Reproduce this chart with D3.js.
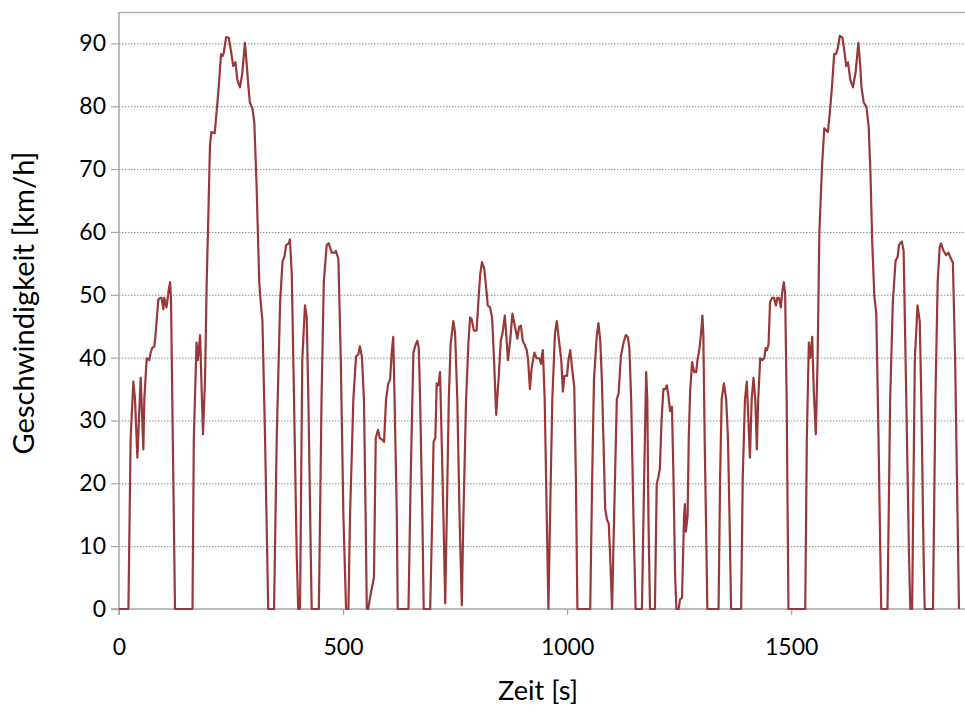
<!DOCTYPE html>
<html><head><meta charset="utf-8">
<script src="https://cdn.jsdelivr.net/npm/d3@7"></script>
<style>body{margin:0;background:#fff}svg{display:block}</style>
</head><body><svg id="c" width="965" height="711"></svg>
<script>
const time = [0,21,26,32,35.7,41,48.4,54.3,56.5,61.8,67.7,70.7,73.7,78.9,81.8,87.8,91.5,95,99,101,106,111,114,116,125,164,167,173,176,181,184,187.5,192,195.7,200,203,206,213.5,216.5,222.5,227.7,231.4,234,239,245,249,255,260,264,270,275,281,285,289,292,298,302,307,313,316,320,326,333,346,352,359.6,365,369,373,379,381.5,385.6,390.6,396.6,400,404,409,415,419,422.6,428,430,446,452,457,463.5,468,474.7,482,484,489.6,495,500.8,506.7,512,515.6,523,529,534,537.5,542,546.6,550.4,553,556,562,569,573,578,582,588,591.5,596,601,605,608.6,612,615,620,622,646,651,657,662,666,669,672,677,680,694.5,699,702,706,709,713,716.5,720,724,728,731.5,736,740,746,750,755,760,765,768.6,774.6,780,783.6,787,792,798,802,806,810,815,819,823,828,832.6,837,841.7,847,852,856,861,864,868,873,878,883,889,893,897,901,905,910,913,917,921,927,932,938,942,944,946,950,954.6,958.3,962,967,973,977,982,987,990.5,994,999.8,1003,1007,1011,1016,1019.6,1023,1051.6,1056,1060,1066,1070,1074,1077.6,1081,1085,1089,1093,1096,1100.4,1103,1107,1111,1115,1120,1126,1131,1135.5,1139,1143,1148,1153,1167,1172,1176.5,1179,1181.5,1185,1196,1200,1203.6,1207,1211,1215,1219,1222.6,1226,1230,1234,1237.4,1241,1244,1249,1252,1256.5,1261,1263,1265,1269,1271.5,1274.6,1279,1283.5,1288,1291,1295.5,1299,1302,1304,1307,1310.5,1313,1338,1341.5,1345,1350,1355,1359,1362.4,1366,1388.4,1392,1397,1401,1404.5,1408,1412,1416,1420,1423.5,1426.5,1431,1435.5,1440,1443,1446,1449.5,1453,1457.6,1462,1466,1469,1473,1477,1480.7,1483.7,1486.6,1490,1494,1531.5,1535,1539.5,1542.5,1547,1550.6,1555,1559,1563,1569,1574,1582,1586,1591,1596,1600,1604,1608.5,1614.5,1618,1623,1627,1632,1638,1644,1650,1654,1657,1662,1668,1673,1677,1681,1685.7,1690,1695,1701,1715,1721,1727,1733,1737.6,1740.6,1747,1751,1757,1763,1766,1770,1776,1782,1787,1790.5,1795.6,1798,1816.5,1822,1827,1831.5,1834.4,1840,1846,1851,1855,1861,1866,1870,1874.6];
const speed = [0,0,27.2,36.2,33.4,24.1,36.8,25.4,33.4,39.9,39.6,40.8,41.5,41.8,43.9,49.2,49.5,49.5,47.7,49.5,48,50.8,52,49.5,0,0,27.2,42.4,39.6,43.6,35.9,27.8,36.5,52,64.4,73.7,75.9,75.7,78,83,88.3,88,88.6,91,90.9,89.2,86.4,87,84.2,83,85.2,90.1,86.7,83,80.6,79.6,77.4,67.5,52,49,46,27,0,0,27.2,48.9,55.4,56,57.9,58.2,58.8,53.2,33.4,8.6,0,0,39.6,48.3,46.4,33.4,8.6,0,0,33.4,52,57.9,58.2,56.7,56.7,57,55.7,39.6,14.8,0,0,14.8,33.4,40.2,40.5,41.8,40.2,33.4,14.8,0,0,2.5,5,27.2,28.5,27.2,26.9,26.6,33.4,35.9,36.5,40.8,43.3,33.4,14.8,0,0,21,40.8,42.1,42.7,41.5,33.4,14.8,0,0,14.8,26.6,27.2,35.9,35.6,37.7,27.2,14.8,0.9,14.8,33.4,42.1,45.8,44,33.4,14.8,0.6,14.8,33.4,42.7,46.4,46.1,44.3,44.3,48.9,53.2,55.2,54.2,51.4,48.3,48,46.4,39.6,30.9,36.5,42.7,43.9,46.7,43.9,39.6,42.7,47,45.2,43,44.9,45.1,42.7,42.1,41.2,39.6,35,38.4,40.8,39.9,39.9,39,40.5,41.2,33.4,14.8,0,14.8,33.4,43.9,45.8,42.7,39.6,34.6,37.1,37.1,39.6,41.2,38.4,35.3,21,0,0,21,36.5,43.3,45.5,42.7,36.5,27.2,16,14.2,13.6,8.6,0,8.6,21,33.4,34.3,40.2,42.4,43.6,43.3,41.5,33.4,14.8,0,0,21,37.7,33.4,14.8,0,0,19.8,21,22.3,30.3,35,35,35.6,34,31.5,32.2,21,5.5,0,0,1.5,1.8,14.8,16.7,12.3,14.8,27.2,34.6,39.3,37.7,37.7,39.6,41.5,43.9,46.7,43.9,27.2,11.7,0,0,21,33.4,35.9,33.4,27.2,14.8,0,0,21,33.4,36.2,30.3,24.1,33.4,36.8,33.4,25.4,33.4,39.9,39.6,39.9,41.5,41.2,42.1,48.9,49.5,49.5,48.3,49.5,49.5,48,50.8,52,50.2,33.4,0,0,27.2,42.4,39.9,43.3,34.6,27.8,39.6,60,70.6,76.5,75.9,78.7,83,88.3,88.3,89.2,91.2,90.9,89.2,86.4,87,84.2,83,85.5,90.1,86.7,83,80.6,79.9,76.8,69.4,58.2,49.8,47,27.2,0,0,33.4,48.9,55.4,56,57.9,58.5,57,33.4,8.6,0,0,39.6,48.3,45.8,33.4,8.6,0,0,33.4,52,57.6,58.2,57,56.3,56.7,56,55.1,39.6,21,0];
const xTicks = [0, 500, 1000, 1500];
const yTicks = [0, 10, 20, 30, 40, 50, 60, 70, 80, 90];
const xTitle = "Zeit [s]";
const yTitle = "Geschwindigkeit [km/h]";

const svg = d3.select("#c");
const L = 119, R = 965, T = 12, B = 609;
const x = d3.scaleLinear().domain([0, 1888]).range([L, R]);
const y = d3.scaleLinear().domain([0, 95]).range([B, T]);
const font = "Lato, 'Open Sans', sans-serif";

// grid
svg.append("g").selectAll("line").data(yTicks.filter(d => d > 0)).join("line")
  .attr("x1", L).attr("x2", R).attr("y1", d => y(d) + 0.5).attr("y2", d => y(d) + 0.5)
  .attr("stroke", "#8c8c8c").attr("stroke-width", 1).attr("stroke-dasharray", "1.5,1.5");
// top border
svg.append("line").attr("x1", L).attr("x2", R).attr("y1", T + 0.5).attr("y2", T + 0.5)
  .attr("stroke", "#b3b3b3").attr("stroke-width", 1.3);

// y axis
const yAxis = svg.append("g").attr("transform", `translate(${L},0)`)
  .call(d3.axisLeft(y).tickValues(yTicks).tickSize(8).tickPadding(5));
yAxis.select(".domain").remove();
yAxis.append("line").attr("x1", 0).attr("x2", 0).attr("y1", T).attr("y2", B + 6)
  .attr("stroke", "#a6a6a6").attr("stroke-width", 1.5);
yAxis.selectAll(".tick line").attr("stroke", "#a6a6a6").attr("stroke-width", 1.2);
yAxis.selectAll("text").attr("font-family", font).attr("font-size", 23).attr("fill", "#000");

// x axis
const xAxis = svg.append("g").attr("transform", `translate(0,${B})`)
  .call(d3.axisBottom(x).tickValues(xTicks).tickSize(6).tickPadding(24).tickFormat(d3.format("d")));
xAxis.select(".domain").remove();
xAxis.append("line").attr("x1", L - 8).attr("x2", R).attr("y1", 0).attr("y2", 0)
  .attr("stroke", "#a6a6a6").attr("stroke-width", 1.5);
xAxis.selectAll(".tick line").attr("stroke", "#a6a6a6").attr("stroke-width", 1.2);
xAxis.selectAll("text").attr("font-family", font).attr("font-size", 23).attr("fill", "#000");

// line
const pts = time.map((t, i) => [t, speed[i]]);
svg.append("path").datum(pts)
  .attr("fill", "none").attr("stroke", "#993838").attr("stroke-width", 2.2)
  .attr("stroke-linejoin", "round")
  .attr("d", d3.line().x(d => x(d[0])).y(d => y(d[1])));

// titles
function fit(sel, w) {
  const n = sel.node(); const l = n.getComputedTextLength();
  const fs = +sel.attr("font-size"); sel.attr("font-size", fs * w / l);
}
const xt = svg.append("text").attr("x", 538).attr("y", 700).attr("text-anchor", "middle")
  .attr("font-family", font).attr("font-size", 24).text(xTitle);
fit(xt, 80);
const yt = svg.append("text").attr("transform", "translate(34,303) rotate(-90)")
  .attr("text-anchor", "middle").attr("font-family", font).attr("font-size", 24).text(yTitle);
fit(yt, 303);
</script></body></html>
